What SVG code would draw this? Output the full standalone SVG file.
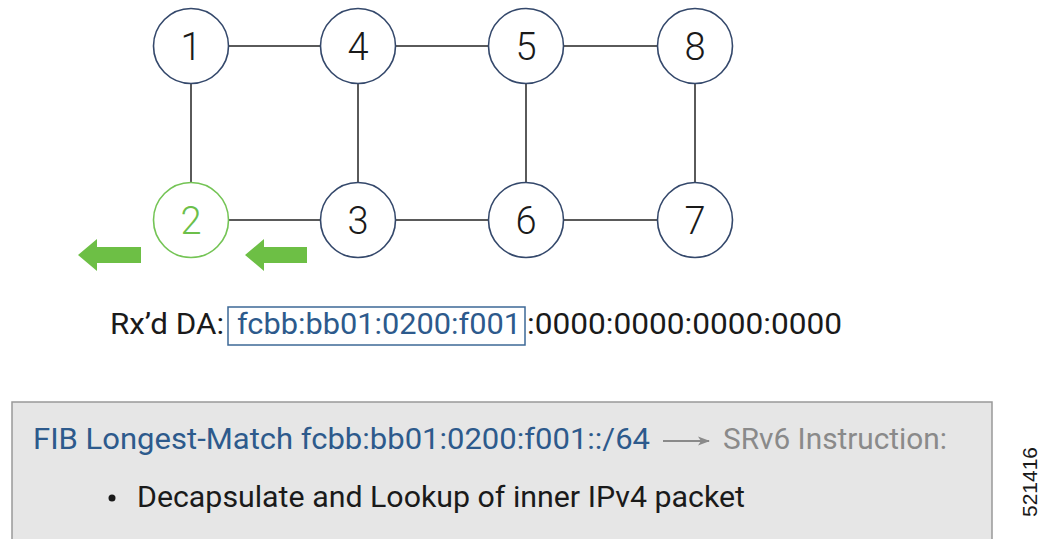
<svg xmlns="http://www.w3.org/2000/svg" width="1042" height="539" viewBox="0 0 1042 539">
<style>
.node{fill:#fff;stroke:#34486b;stroke-width:1.6}
.green{stroke:#74c455}
.num{font-family:Roboto,"Liberation Sans",sans-serif;font-size:38px;font-weight:300;fill:#1a1a1a;text-anchor:middle}
.link{stroke:#5a5a5a;stroke-width:2;fill:none}
.t{font-family:Roboto,"Liberation Sans",sans-serif;font-size:29px}
</style>
<defs>
<marker id="gah" markerWidth="12" markerHeight="10" refX="11" refY="5" orient="auto" markerUnits="userSpaceOnUse"><path d="M0,0.5 L12,5 L0,9.5 L3,5 z" fill="#8a8a8a"/></marker>
</defs>
<rect width="1042" height="539" fill="#fff"/>
<g id="connectors">
<line class="link" x1="229" y1="46" x2="321" y2="46"/>
<line class="link" x1="396" y1="46" x2="489" y2="46"/>
<line class="link" x1="564" y1="46" x2="657" y2="46"/>
<line class="link" x1="191" y1="84" x2="191" y2="183"/>
<line class="link" x1="358" y1="84" x2="358" y2="183"/>
<line class="link" x1="526" y1="84" x2="526" y2="183"/>
<line class="link" x1="695" y1="84" x2="695" y2="183"/>
<line class="link" x1="229" y1="220" x2="321" y2="220"/>
<line class="link" x1="396" y1="220" x2="489" y2="220"/>
<line class="link" x1="564" y1="220" x2="657" y2="220"/>
</g>
<g id="node1"><circle class="node" cx="191" cy="46" r="37.5"/><text class="num" x="191" y="60">1</text></g>
<g id="node4"><circle class="node" cx="358" cy="46" r="37.5"/><text class="num" x="358" y="60">4</text></g>
<g id="node5"><circle class="node" cx="526" cy="46" r="37.5"/><text class="num" x="526" y="60">5</text></g>
<g id="node8"><circle class="node" cx="695" cy="46" r="37.5"/><text class="num" x="695" y="60">8</text></g>
<g id="node2"><circle class="node green" cx="191" cy="220" r="37.5"/><text class="num" x="191" y="234" style="fill:#6cbf4a">2</text></g>
<g id="node3"><circle class="node" cx="358" cy="220" r="37.5"/><text class="num" x="358" y="234">3</text></g>
<g id="node6"><circle class="node" cx="526" cy="220" r="37.5"/><text class="num" x="526" y="234">6</text></g>
<g id="node7"><circle class="node" cx="695" cy="220" r="37.5"/><text class="num" x="695" y="234">7</text></g>
<g id="arrows" fill="#6dbf45">
<path d="M78,255 L97,239 L97,247 L141,247 L141,263 L97,263 L97,271 z"/>
<path d="M245,255 L264,239 L264,247 L307,247 L307,263 L264,263 L264,271 z"/>
</g>
<g id="address">
<rect x="228" y="307" width="297" height="38" fill="none" stroke="#3d6896" stroke-width="1.5"/>
<text class="t" x="110" y="334" fill="#1a1a1a" textLength="114" lengthAdjust="spacingAndGlyphs">Rx’d DA:</text>
<text class="t" x="237" y="334" fill="#2d5a8c" textLength="284" lengthAdjust="spacingAndGlyphs">fcbb:bb01:0200:f001</text>
<text class="t" x="527" y="334" fill="#1a1a1a" textLength="315" lengthAdjust="spacingAndGlyphs">:0000:0000:0000:0000</text>
</g>
<g id="fib">
<rect x="12" y="402" width="980" height="150" fill="#e6e6e6" stroke="#999" stroke-width="1.5"/>
<text class="t" x="33" y="449" fill="#2d5a8c" textLength="617" lengthAdjust="spacingAndGlyphs">FIB Longest-Match fcbb:bb01:0200:f001::/64</text>
<line x1="663" y1="441" x2="709" y2="441" stroke="#8a8a8a" stroke-width="2" marker-end="url(#gah)"/>
<text class="t" x="723" y="449" fill="#8a8a8a" textLength="224" lengthAdjust="spacingAndGlyphs">SRv6 Instruction:</text>
<circle cx="112" cy="498" r="3.5" fill="#1a1a1a"/>
<text class="t" x="137" y="507" fill="#1a1a1a" textLength="608" lengthAdjust="spacingAndGlyphs">Decapsulate and Lookup of inner IPv4 packet</text>
</g>
<text x="1037" y="482" transform="rotate(-90 1037 482)" text-anchor="middle" font-family="'Liberation Sans',Arial,sans-serif" font-size="21" fill="#1a1a1a">521416</text>
</svg>
